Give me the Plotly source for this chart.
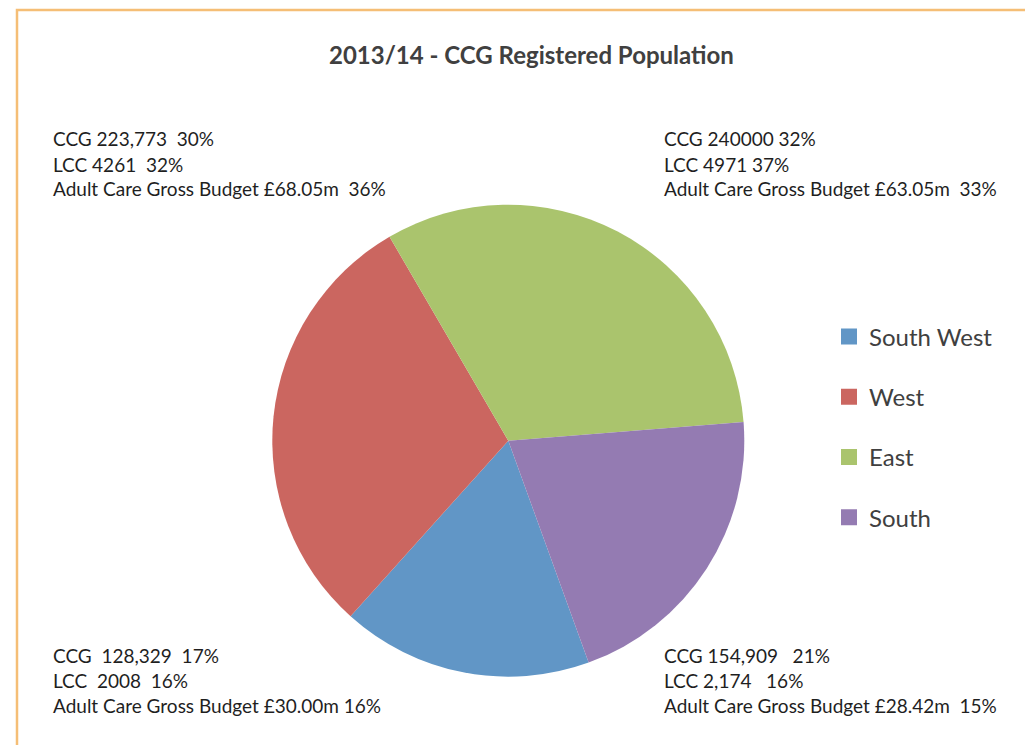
import plotly.graph_objects as go

# ---- data ----
regions = ["South West", "West", "East", "South"]
ccg_population = [128329, 223773, 240000, 154909]
colors = ["#6196C6", "#CB6660", "#AAC46D", "#947BB2"]

title_text = "2013/14 - CCG Registered Population"

label_top_left = ["CCG 223,773  30%", "LCC 4261  32%", "Adult Care Gross Budget £68.05m  36%"]
label_top_right = ["CCG 240000 32%", "LCC 4971 37%", "Adult Care Gross Budget £63.05m  33%"]
label_bottom_left = ["CCG  128,329  17%", "LCC  2008  16%", "Adult Care Gross Budget £30.00m 16%"]
label_bottom_right = ["CCG 154,909   21%", "LCC 2,174   16%", "Adult Care Gross Budget £28.42m  15%"]

W, H = 1033, 745
OFF = 8  # page body margin: figure origin sits 8px in from the window corner
FONT = "Lato, 'Open Sans', sans-serif"

def px(x):
    return (x - OFF) / W

def py(y):
    return 1 - (y - OFF) / H

fig = go.Figure()

cx, cy, r = 508.3, 440.7, 236
fig.add_trace(go.Pie(
    labels=regions,
    values=ccg_population,
    sort=False,
    direction="clockwise",
    rotation=160.1,
    marker=dict(colors=colors, line=dict(width=0)),
    textinfo="none",
    hoverinfo="label+value+percent",
    showlegend=False,
    domain=dict(x=[px(cx - r), px(cx + r)], y=[py(cy + r), py(cy - r)]),
))

# legend entries (square swatches) via empty scatter traces
for i, (name, c) in enumerate(zip(regions, colors)):
    fig.add_trace(go.Scatter(
        x=[None], y=[None], mode="markers", name=name,
        marker=dict(symbol="square", size=16, color=c),
        legendgroup=f"g{i}", showlegend=True,
    ))

annotations = []
def add_block(lines, x_px, y_centers):
    for txt, yc in zip(lines, y_centers):
        annotations.append(dict(
            text=txt, xref="paper", yref="paper",
            x=px(x_px), y=py(yc), xanchor="left", yanchor="middle",
            showarrow=False, align="left",
            font=dict(family=FONT, size=19, color="#1F1F1F"),
        ))

add_block(label_top_left, 51, [139, 164, 189])
add_block(label_top_right, 662, [139, 164, 189])
add_block(label_bottom_left, 51, [655, 680, 705])
add_block(label_bottom_right, 662, [655, 680, 705])

annotations.append(dict(
    text=f"<b>{title_text}</b>", xref="paper", yref="paper",
    x=px(531.5), y=py(55), xanchor="center", yanchor="middle",
    showarrow=False, font=dict(family=FONT, size=24, color="#404040"),
))

fig.update_layout(
    width=W, height=H,
    margin=dict(l=0, r=0, t=0, b=0),
    paper_bgcolor="white", plot_bgcolor="white",
    xaxis=dict(visible=False), yaxis=dict(visible=False),
    annotations=annotations,
    legend=dict(
        x=821 / W, y=1 - 306.5 / H, xanchor="left", yanchor="top",
        font=dict(family=FONT, size=24, color="#404040"),
        tracegroupgap=26, bgcolor="rgba(0,0,0,0)",
        itemclick=False, itemdoubleclick=False,
    ),
    shapes=[dict(
        type="rect", xref="paper", yref="paper",
        x0=px(17), x1=1.05, y0=-0.05, y1=py(10),
        line=dict(color="#F5BE76", width=2.5), fillcolor="rgba(0,0,0,0)",
        layer="below",
    )],
)

fig.write_html("out.html")
